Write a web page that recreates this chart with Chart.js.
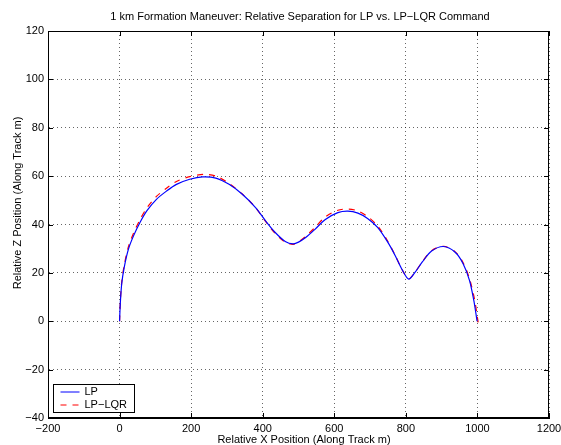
<!DOCTYPE html>
<html>
<head>
<meta charset="utf-8">
<title>1 km Formation Maneuver</title>
<script src="https://cdn.jsdelivr.net/npm/chart.js@4.4.0/dist/chart.umd.min.js"></script>
<style>
  html, body { margin: 0; padding: 0; background: #fff; }
</style>
</head>
<body>
<canvas id="chart" width="561" height="445"></canvas>
<script>
  'use strict';

  // LP command: relative separation (along track, m)
  var lpX = [0, 2, 6, 13, 25, 39, 57, 76, 103, 131, 159, 196, 232, 269, 306, 343, 380, 408,
    435, 463, 485, 500, 520, 546, 574, 610, 638, 666, 693, 721, 749, 770, 790, 808, 826,
    846, 872, 905, 937, 960, 978, 990, 996, 999];
  var lpY = [0, 7.3, 15.5, 22.3, 29.9, 35.3, 40.8, 45.6, 50.4, 53.8, 56.6, 58.7, 59.7, 59.2,
    56.6, 52.5, 47, 41.5, 36.7, 33, 32, 32.7, 34.6, 38, 42, 44.9, 45.5, 44.7, 42.5,
    38.8, 32.8, 27.2, 21.2, 17.4, 20.3, 24.5, 29, 30.9, 28.6, 23.8, 16.8, 8.5, 3, 0];

  // LP-LQR command
  var lqrX = [0, 2, 6, 13, 25, 39, 57, 76, 103, 131, 159, 196, 235, 269, 306, 343, 380, 408,
    435, 463, 485, 500, 520, 546, 574, 610, 640, 666, 693, 721, 749, 770, 790, 808, 826,
    846, 872, 905, 937, 960, 978, 992, 998, 1002];
  var lqrY = [0, 7.8, 16.2, 23.2, 30.9, 36.4, 42, 46.8, 51.6, 55, 57.8, 59.8, 60.7, 60, 57,
    52.6, 47, 41.3, 36.3, 32.7, 31.8, 32.8, 35.1, 38.8, 43, 45.9, 46.4, 45.6, 43.3, 39.4,
    33.2, 27.3, 21.2, 17.6, 20.4, 24.6, 29.2, 31, 28.8, 24.2, 17.5, 9, 3.5, -0.5];

  var xTicks = [-200, 0, 200, 400, 600, 800, 1000, 1200];
  var yTicks = [-40, -20, 0, 20, 40, 60, 80, 100, 120];
  var seriesNames = ['LP', 'LP\u2212LQR'];

  var chartTitle = '1 km Formation Maneuver: Relative Separation for LP vs. LP\u2212LQR Command';
  var xLabel = 'Relative X Position (Along Track m)';
  var yLabel = 'Relative Z Position (Along Track m)';

  var FONT = '11px "Liberation Sans", Arial, Helvetica, sans-serif';

  function toPoints(xs, ys) {
    return xs.map(function (x, i) { return { x: x, y: ys[i] }; });
  }

  function minusSign(v) {
    return String(v).replace('-', '\u2212');
  }

  // Box, inner tick marks, axis labels and legend, MATLAB style
  var matlabFrame = {
    id: 'matlabFrame',
    afterDraw: function (chart) {
      var ctx = chart.ctx;
      var a = chart.chartArea;
      var sx = chart.scales.x;
      var sy = chart.scales.y;

      ctx.save();
      ctx.strokeStyle = '#000';
      ctx.lineWidth = 1;
      ctx.setLineDash([]);
      ctx.strokeRect(a.left + 0.5, a.top + 0.5, a.right - a.left - 1, a.bottom - a.top - 1);

      ctx.beginPath();
      xTicks.forEach(function (v) {
        var px = Math.round(sx.getPixelForValue(v)) + 0.5;
        ctx.moveTo(px, a.bottom);
        ctx.lineTo(px, a.bottom - 5);
        ctx.moveTo(px, a.top);
        ctx.lineTo(px, a.top + 5);
      });
      yTicks.forEach(function (v) {
        var py = Math.round(sy.getPixelForValue(v)) + 0.5;
        ctx.moveTo(a.left, py);
        ctx.lineTo(a.left + 5, py);
        ctx.moveTo(a.right, py);
        ctx.lineTo(a.right - 5, py);
      });
      ctx.stroke();

      // texts
      ctx.fillStyle = '#000';
      ctx.font = FONT;
      ctx.textAlign = 'center';
      ctx.textBaseline = 'middle';
      ctx.fillText(chartTitle, 300, 16.5);
      ctx.fillText(xLabel, 304, 440);
      ctx.save();
      ctx.translate(18, 203);
      ctx.rotate(-Math.PI / 2);
      ctx.fillText(yLabel, 0, 0);
      ctx.restore();

      // legend
      var lx = a.left + 5.5;
      var ly = a.bottom - 33.5;
      ctx.fillStyle = '#fff';
      ctx.fillRect(lx, ly, 81, 28);
      ctx.strokeStyle = '#000';
      ctx.strokeRect(lx, ly, 81, 28);
      chart.data.datasets.forEach(function (ds, i) {
        var rowY = ly + 7.5 + i * 13;
        ctx.strokeStyle = ds.borderColor;
        ctx.lineWidth = 1;
        ctx.setLineDash(ds.borderDash || []);
        ctx.beginPath();
        ctx.moveTo(lx + 7, rowY);
        ctx.lineTo(lx + 26, rowY);
        ctx.stroke();
        ctx.setLineDash([]);
        ctx.fillStyle = '#000';
        ctx.textAlign = 'left';
        ctx.fillText(ds.label, lx + 31, rowY);
      });
      ctx.restore();
    }
  };

  Chart.defaults.color = '#000';
  Chart.defaults.font.family = '"Liberation Sans", Arial, Helvetica, sans-serif';
  Chart.defaults.font.size = 11;

  var gridOpts = {
    color: 'rgba(0,0,0,0.6)',
    lineWidth: 1,
    drawTicks: false,
    borderDash: [1, 3]
  };

  new Chart(document.getElementById('chart'), {
    type: 'scatter',
    data: {
      datasets: [
        {
          label: seriesNames[0],
          data: toPoints(lpX, lpY),
          showLine: true,
          borderColor: '#0000ff',
          backgroundColor: '#0000ff',
          borderWidth: 1.2,
          pointRadius: 0,
          tension: 0.3
        },
        {
          label: seriesNames[1],
          data: toPoints(lqrX, lqrY),
          showLine: true,
          borderColor: '#ff0000',
          backgroundColor: '#ff0000',
          borderWidth: 1.2,
          borderDash: [6, 6],
          pointRadius: 0,
          tension: 0.3
        }
      ]
    },
    options: {
      responsive: false,
      animation: false,
      devicePixelRatio: 1,
      layout: { padding: { top: 31, right: 12, bottom: 0, left: 0 } },
      plugins: {
        legend: { display: false },
        title: { display: false },
        tooltip: { enabled: false }
      },
      scales: {
        x: {
          type: 'linear',
          min: -200,
          max: 1200,
          grid: gridOpts,
          border: { display: true, color: '#000', width: 1, dash: [1, 3] },
          ticks: {
            padding: 4,
            maxRotation: 0,
            autoSkip: false,
            callback: minusSign
          },
          afterBuildTicks: function (scale) {
            scale.ticks = xTicks.map(function (v) { return { value: v }; });
          },
          afterFit: function (scale) {
            scale.height = 27;
            scale.paddingLeft = 0;
            scale.paddingRight = 0;
          }
        },
        y: {
          type: 'linear',
          min: -40,
          max: 120,
          grid: gridOpts,
          border: { display: true, color: '#000', width: 1, dash: [1, 3] },
          ticks: {
            padding: 4,
            autoSkip: false,
            callback: minusSign
          },
          afterBuildTicks: function (scale) {
            scale.ticks = yTicks.map(function (v) { return { value: v }; });
          },
          afterFit: function (scale) {
            scale.width = 48;
            scale.paddingTop = 0;
            scale.paddingBottom = 0;
          }
        }
      }
    },
    plugins: [matlabFrame]
  });
</script>
</body>
</html>
